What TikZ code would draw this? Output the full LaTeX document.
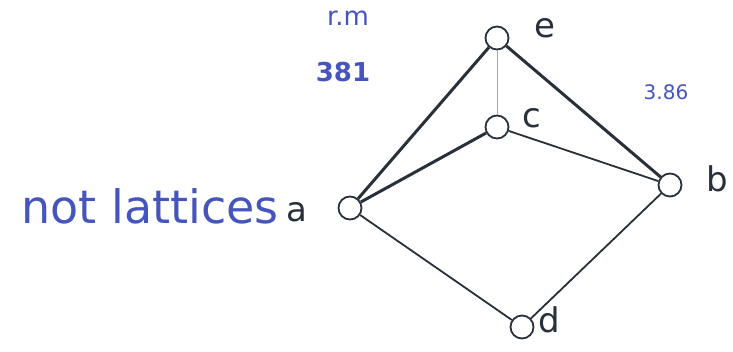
\documentclass[tikz,border=0pt]{standalone}
\usepackage{fontspec}
\setmainfont{DejaVu Sans}
\definecolor{ink}{RGB}{40,48,58}
\definecolor{pen}{RGB}{70,85,190}
\definecolor{faint}{RGB}{150,165,215}
\tikzset{
  vtx/.style={circle,draw=ink,line width=1.8pt,minimum size=23pt,inner sep=0pt},
  lbl/.style={text=ink,font=\fontsize{34}{34}\selectfont},
  note/.style={text=pen,font=\fontsize{26}{26}\selectfont},
  thick edge/.style={draw=ink,line width=3pt},
  thin edge/.style={draw=ink,line width=1.8pt}
}
\begin{document}
\begin{tikzpicture}[x=1pt,y=-1pt]
\useasboundingbox[fill=white] (0,0) rectangle (733,351);
\node[vtx] (e) at (497,38) {};
\node[vtx] (c) at (497,127) {};
\node[vtx] (a) at (350,208) {};
\node[vtx] (b) at (670,185) {};
\node[vtx] (d) at (522,327) {};
\node[lbl] (le) at (545,28) {e};
\node[lbl] (lc) at (532,118) {c};
\node[lbl] (la) at (297,212) {a};
\node[lbl] (lb) at (717,179) {b};
\node[lbl] (ld) at (549,320) {d};
\draw[thick edge] (a) -- (e);
\draw[thick edge] (a) -- (c);
\draw[thick edge] (e) -- (b);
\draw[thin edge] (c) -- (b);
\draw[thin edge] (a) -- (d);
\draw[thin edge] (d) -- (b);
\draw[faint,line width=0.8pt] (e) -- (c);
\node[note] (rm) at (348,18) {r.m};
\node[note] (n381) at (343,72) {\textbf{381}};
\node[note,font=\fontsize{20}{20}\selectfont] (n386) at (666,92) {3.86};
\node[text=pen,font=\fontsize{46}{46}\selectfont] (nl) at (150,206) {not lattices};
\end{tikzpicture}
\end{document}
